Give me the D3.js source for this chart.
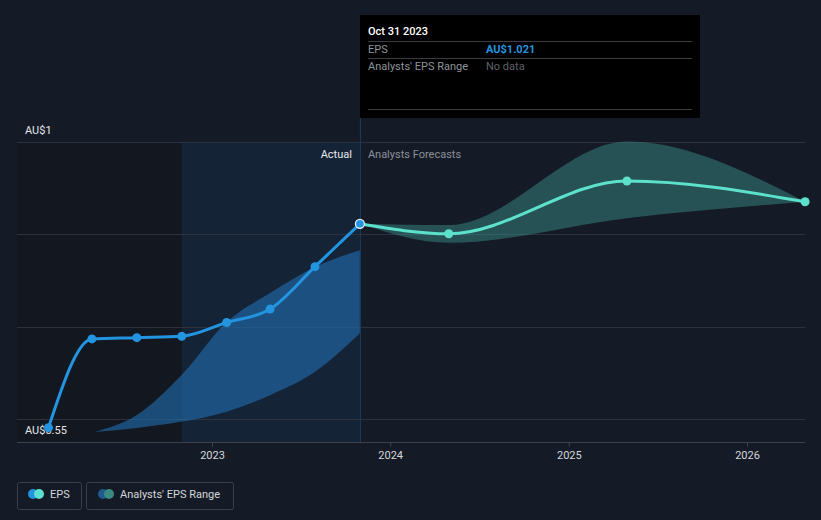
<!DOCTYPE html>
<html><head><meta charset="utf-8">
<script src="https://cdn.jsdelivr.net/npm/d3@7"></script>
<style>
html,body{margin:0;padding:0;background:#151b26;}
svg{display:block;font-family:Roboto,"Noto Sans",sans-serif;}
</style></head>
<body>
<svg id="c" width="821" height="520"></svg>
<script>
// ---- data ----
const actualDates = ["2022-01-31","2022-04-30","2022-07-31","2022-10-31","2023-01-31","2023-04-30","2023-07-31","2023-10-31"];
const actualEPS   = [0.55, 0.755, 0.758, 0.761, 0.793, 0.824, 0.922, 1.021];
const pastRangeDates = ["2022-05-05","2022-07-31","2022-10-31","2023-01-31","2023-04-30","2023-07-31","2023-10-31"];
const pastRangeLow   = [0.540, 0.549, 0.564, 0.587, 0.625, 0.679, 0.768];
const pastRangeHigh  = [0.540, 0.579, 0.672, 0.794, 0.861, 0.921, 0.960];
const forecastDates = ["2023-10-31","2024-04-30","2025-04-30","2026-04-30"];
const forecastEPS   = [1.021, 0.998, 1.120, 1.072];
const forecastLow   = [1.021, 0.977, 1.034, 1.072];
const forecastHigh  = [1.021, 1.018, 1.211, 1.072];
const gridValues = [0.57, 0.7833, 0.9967, 1.21];
const yLabels = ["AU$1", "AU$0.55"];
const xTickYears = [2023, 2024, 2025, 2026];
const tooltipDate = "Oct 31 2023";
const tooltipEPS = "AU$1.021";

(function(){
const parse = d3.timeParse("%Y-%m-%d");
const svg = d3.select("#c");
const W = 821, H = 520;
const pLeft = 17, pRight = 805, pTop = 142, pBottom = 442;

const x = d3.scaleTime().domain([new Date(2023,0,1), new Date(2026,0,1)]).range([212, 747]);
const y = d3.scaleLinear().domain([0.57, 1.21]).range([419, 142]);

const nowX = x(parse("2023-10-31"));
const pastStartX = x(parse("2022-10-31"));

svg.append("rect").attr("x",0).attr("y",0).attr("width",W).attr("height",H).attr("fill","#151b26");
svg.append("rect").attr("x",pLeft).attr("y",pTop).attr("width",pastStartX-pLeft).attr("height",pBottom-pTop).attr("fill","#13171f");
svg.append("rect").attr("x",pastStartX).attr("y",pTop).attr("width",nowX-pastStartX).attr("height",pBottom-pTop).attr("fill","#14253a").attr("opacity",0.85);

svg.append("g").selectAll("line").data(gridValues).join("line")
  .attr("x1",pLeft).attr("x2",pRight).attr("y1",d=>Math.round(y(d))+0.5).attr("y2",d=>Math.round(y(d))+0.5)
  .attr("stroke","#2c323d").attr("stroke-width",1);

// y labels (under marks)
svg.append("text").attr("x",25).attr("y",134).text(yLabels[0]).attr("fill","#e4e6ea").attr("font-size",11);
svg.append("text").attr("x",25).attr("y",434).text(yLabels[1]).attr("fill","#e4e6ea").attr("font-size",11);

const pr = pastRangeDates.map((d,i)=>({d:parse(d),lo:pastRangeLow[i],hi:pastRangeHigh[i]}));
svg.append("path").datum(pr)
  .attr("d", d3.area().x(d=>x(d.d)).y0(d=>y(d.lo)).y1(d=>y(d.hi)).curve(d3.curveMonotoneX))
  .attr("fill","#2277c0").attr("opacity",0.55);

const fr = forecastDates.map((d,i)=>({d:parse(d),lo:forecastLow[i],hi:forecastHigh[i]}));
svg.append("path").datum(fr)
  .attr("d", d3.area().x(d=>x(d.d)).y0(d=>y(d.lo)).y1(d=>y(d.hi)).curve(d3.curveMonotoneX))
  .attr("fill","#3e9790").attr("opacity",0.45);

svg.append("line").attr("x1",nowX+0.5).attr("x2",nowX+0.5).attr("y1",118).attr("y2",pBottom)
  .attr("stroke","#1b3d5c").attr("stroke-width",1);

const xAxis = d3.axisBottom(x).tickValues(xTickYears.map(v=>new Date(v,0,1))).tickFormat(d3.timeFormat("%Y")).tickSize(5).tickPadding(4);
const gx = svg.append("g").attr("transform",`translate(0,${pBottom})`).call(xAxis);
gx.select(".domain").remove();
gx.selectAll(".tick line").attr("stroke","#3d434e");
gx.selectAll(".tick text").attr("fill","#d4d7dc").attr("font-size",11).attr("font-family","Roboto,sans-serif");
svg.append("line").attr("x1",pLeft).attr("x2",pRight).attr("y1",pBottom+0.5).attr("y2",pBottom+0.5).attr("stroke","#3d434e");

const fl = forecastDates.map((d,i)=>({d:parse(d),v:forecastEPS[i]}));
svg.append("path").datum(fl)
  .attr("d", d3.line().x(d=>x(d.d)).y(d=>y(d.v)).curve(d3.curveMonotoneX))
  .attr("fill","none").attr("stroke","#5ce1cc").attr("stroke-width",3);
svg.append("g").selectAll("circle").data(fl.slice(1)).join("circle")
  .attr("cx",d=>x(d.d)).attr("cy",d=>y(d.v)).attr("r",4.5).attr("fill","#5ce1cc");

const al = actualDates.map((d,i)=>({d:parse(d),v:actualEPS[i]}));
svg.append("path").datum(al)
  .attr("d", d3.line().x(d=>x(d.d)).y(d=>y(d.v)).curve(d3.curveMonotoneX))
  .attr("fill","none").attr("stroke","#2394df").attr("stroke-width",3);
svg.append("g").selectAll("circle").data(al.slice(0,-1)).join("circle")
  .attr("cx",d=>x(d.d)).attr("cy",d=>y(d.v)).attr("r",4.5).attr("fill","#2394df");
const last = al[al.length-1];
svg.append("circle").attr("cx",x(last.d)).attr("cy",y(last.v)).attr("r",4.5)
  .attr("fill","#2394df").attr("stroke","#e8eef5").attr("stroke-width",1.3);

svg.append("text").attr("x",nowX-8).attr("y",158).attr("text-anchor","end").text("Actual").attr("fill","#e8eaee").attr("font-size",11);
svg.append("text").attr("x",nowX+8).attr("y",158).text("Analysts Forecasts").attr("fill","#8b9099").attr("font-size",11);

const tt = svg.append("g");
tt.append("rect").attr("x",360).attr("y",15).attr("width",340).attr("height",103).attr("fill","#000");
tt.append("text").attr("x",368).attr("y",35).text(tooltipDate).attr("fill","#ffffff").attr("font-size",11).attr("font-weight",500);
[41,58,109].forEach(yy=>tt.append("line").attr("x1",368).attr("x2",692).attr("y1",yy+0.5).attr("y2",yy+0.5).attr("stroke","#3a3d42"));
tt.append("text").attr("x",368).attr("y",53).text("EPS").attr("fill","#8e939a").attr("font-size",11);
tt.append("text").attr("x",486).attr("y",53).text(tooltipEPS).attr("fill","#2394df").attr("font-size",11).attr("font-weight",700);
tt.append("text").attr("x",368).attr("y",70).text("Analysts' EPS Range").attr("fill","#8e939a").attr("font-size",11);
tt.append("text").attr("x",486).attr("y",70).text("No data").attr("fill","#5d6168").attr("font-size",11);

const lg = svg.append("g");
lg.append("rect").attr("x",17.5).attr("y",482.5).attr("width",64).attr("height",27).attr("rx",2).attr("fill","none").attr("stroke","#3a3f4a");
lg.append("circle").attr("cx",33).attr("cy",494).attr("r",5).attr("fill","#2394df");
lg.append("circle").attr("cx",39).attr("cy",494).attr("r",5).attr("fill","#5ce1cc");
lg.append("text").attr("x",50).attr("y",498).text("EPS").attr("fill","#d4d7dc").attr("font-size",11);
lg.append("rect").attr("x",86.5).attr("y",482.5).attr("width",147).attr("height",27).attr("rx",2).attr("fill","none").attr("stroke","#3a3f4a");
lg.append("circle").attr("cx",103).attr("cy",494).attr("r",5).attr("fill","#1f5a8c");
lg.append("circle").attr("cx",109).attr("cy",494).attr("r",5).attr("fill","#3a8a82");
lg.append("text").attr("x",120).attr("y",498).text("Analysts' EPS Range").attr("fill","#d4d7dc").attr("font-size",11);
})();
</script>
</body></html>
